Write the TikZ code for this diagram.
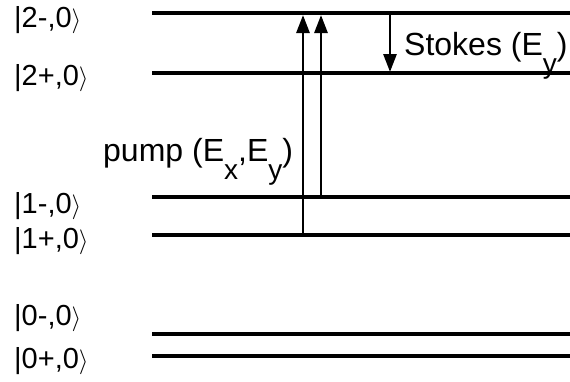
\documentclass[tikz,border=0pt]{standalone}
\usepackage{fontspec}
\setmainfont{Liberation Sans}
\usetikzlibrary{arrows.meta}
\newcommand{\lsub}[1]{\raisebox{-18pt}{\fontsize{28}{28}\selectfont #1}}
\newcommand{\kt}{\ensuremath{\rangle}}
\begin{document}
\begin{tikzpicture}[x=1pt,y=-1pt,
  level/.style={line width=3.6pt},
  arr/.style={line width=2.8pt,-{Triangle[length=18pt,width=13pt]}},
  lab/.style={anchor=base west,inner sep=0pt,font=\fontsize{29}{34}\selectfont},
  txt/.style={anchor=base west,inner sep=0pt,font=\fontsize{32}{36}\selectfont}]
\useasboundingbox (0,0) rectangle (570,381);
\foreach \n/\y in {2m/13,2p/73,1m/197,1p/235,0m/334,0p/356}{
  \coordinate (L\n) at (152,\y);
  \coordinate (R\n) at (570,\y);
  \draw[level] (L\n) -- (R\n);
}
\node[lab] (k2m) at (14,27) {|2-,0\kt};
\node[lab] (k2p) at (14,85) {|2+,0\kt};
\node[lab] (k1m) at (14,213) {|1-,0\kt};
\node[lab] (k1p) at (14,248) {|1+,0\kt};
\node[lab] (k0m) at (14,325) {|0-,0\kt};
\node[lab] (k0p) at (14,368) {|0+,0\kt};
\coordinate (a1) at (303,0);
\coordinate (a2) at (321,0);
\coordinate (a3) at (390,0);
\draw[arr,shorten >=2pt] (a1 |- L1p) -- (a1 |- L2m);
\draw[arr,shorten >=2pt] (a2 |- L1m) -- (a2 |- L2m);
\draw[arr,shorten >=1pt] (a3 |- L2m) -- (a3 |- L2p);
\node[txt] (pump) at (103,161) {pump (E\lsub{x},E\lsub{y})};
\node[txt] (stokes) at (404,55) {Stokes (E\lsub{y})};
\end{tikzpicture}
\end{document}
